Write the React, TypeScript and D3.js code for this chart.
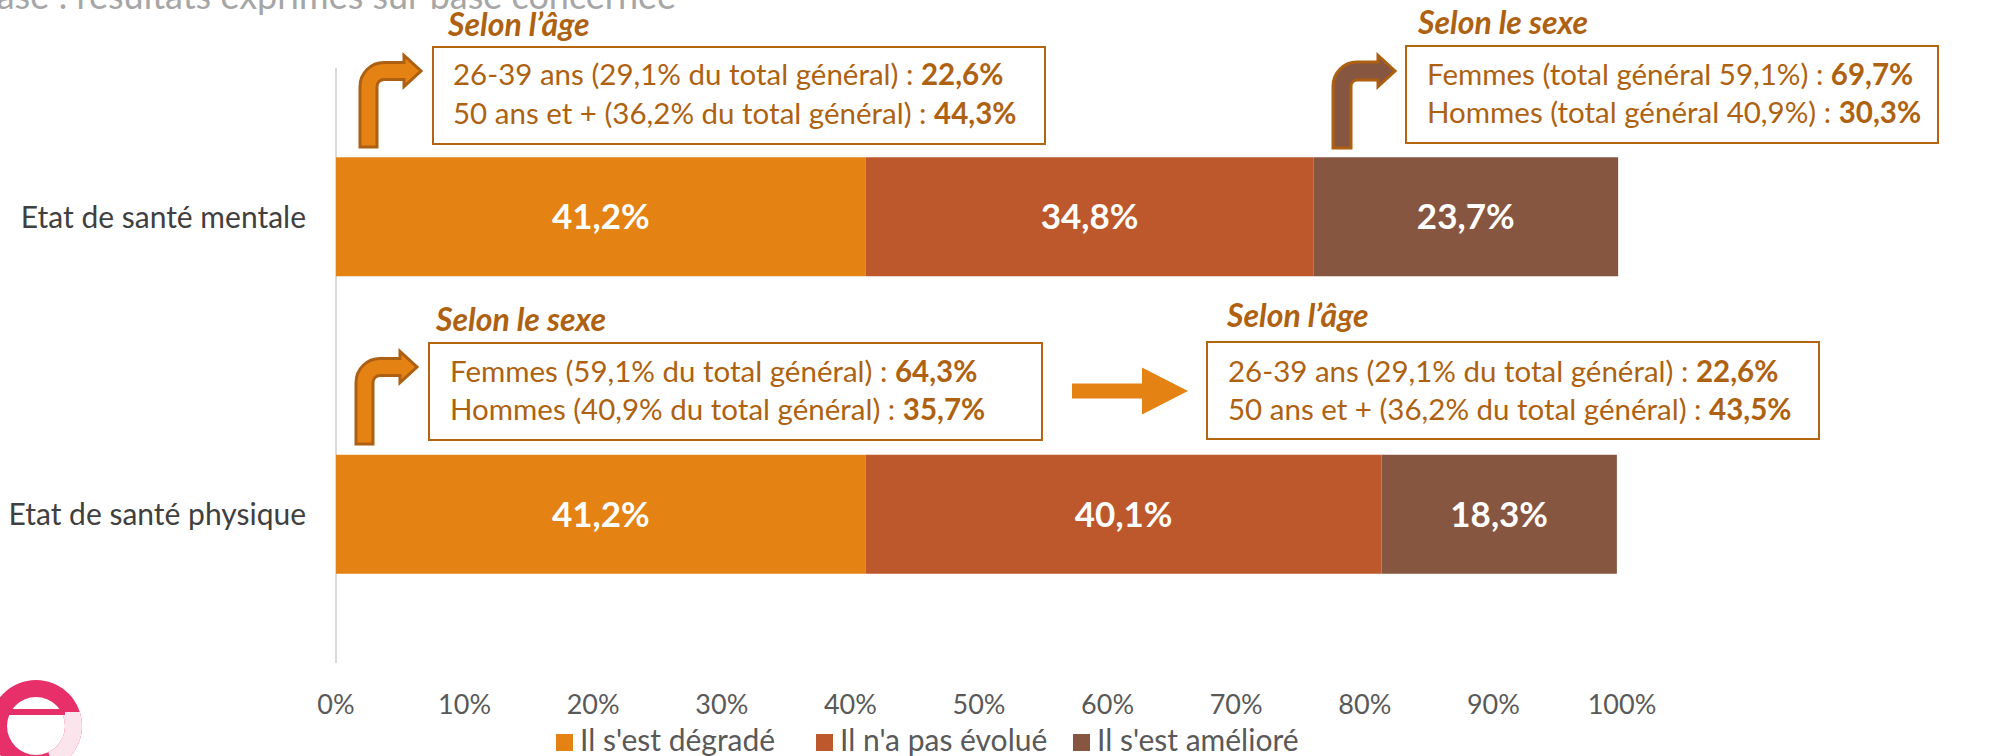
import React from "react";
import * as d3 from "d3";

// ---------- Data ----------
const categories = ["Etat de santé mentale", "Etat de santé physique"];
const seriesNames = ["Il s'est dégradé", "Il n'a pas évolué", "Il s'est amélioré"];
const degrade = [41.2, 41.2];
const inchange = [34.8, 40.1];
const ameliore = [23.7, 18.3];
const xTicks = [0, 10, 20, 30, 40, 50, 60, 70, 80, 90, 100];

const calloutTitles = ["Selon l’âge", "Selon le sexe", "Selon le sexe", "Selon l’âge"];
const calloutLabels = [
  ["26-39 ans (29,1% du total général) : ", "50 ans et + (36,2% du total général) : "],
  ["Femmes (total général 59,1%) : ", "Hommes (total général 40,9%) : "],
  ["Femmes (59,1% du total général) : ", "Hommes (40,9% du total général) : "],
  ["26-39 ans (29,1% du total général) : ", "50 ans et + (36,2% du total général) : "],
];
const calloutValues = [
  ["22,6%", "44,3%"],
  ["69,7%", "30,3%"],
  ["64,3%", "35,7%"],
  ["22,6%", "43,5%"],
];
const headerText = "Base : résultats exprimés sur base concernée";

// ---------- Styles / layout ----------
const W = 1998;
const H = 756;
const FONT = "Lato, 'Open Sans', sans-serif";
const colors = ["#E48214", "#BD582C", "#875640"];
const calloutColor = "#AE6211";
const boxStroke = "#B5650F";
const arrowStroke = "#AD5F12";

const boxes = [
  { x: 433, y: 47, w: 612, h: 97, tx: 448, ty: 36, lx: 453, l1: 85, l2: 124 },
  { x: 1406, y: 46, w: 532, h: 97, tx: 1418, ty: 34, lx: 1427, l1: 85, l2: 123 },
  { x: 429, y: 343, w: 613, h: 97, tx: 436, ty: 331, lx: 450, l1: 382, l2: 420 },
  { x: 1207, y: 342, w: 612, h: 97, tx: 1227, ty: 327, lx: 1228, l1: 382, l2: 420 },
];

const bentArrows = [
  { sl: 360, sr: 377, bottom: 147, cy: 71, base: 404, tip: 421, hh: 15.5, fill: "#E48214" },
  { sl: 1333, sr: 1351, bottom: 148, cy: 71, base: 1378, tip: 1395, hh: 15.5, fill: "#875640" },
  { sl: 356, sr: 373, bottom: 444, cy: 367, base: 400, tip: 417, hh: 15.5, fill: "#E48214" },
];

function bentArrowPath(a: any) {
  const sw = a.sr - a.sl;
  const top = a.cy - sw / 2;
  const bot = a.cy + sw / 2;
  const Ro = 24;
  const Ri = Ro - sw;
  return [
    `M${a.sl},${a.bottom}`,
    `L${a.sl},${top + Ro}`,
    `A${Ro},${Ro} 0 0 1 ${a.sl + Ro},${top}`,
    `L${a.base},${top}`,
    `L${a.base},${a.cy - a.hh}`,
    `L${a.tip},${a.cy}`,
    `L${a.base},${a.cy + a.hh}`,
    `L${a.base},${bot}`,
    `L${a.sr + Ri},${bot}`,
    `A${Ri},${Ri} 0 0 0 ${a.sr},${bot + Ri}`,
    `L${a.sr},${a.bottom}`,
    "Z",
  ].join(" ");
}

function straightArrowPath(x0: number, base: number, tip: number, cy: number, sh: number, hh: number) {
  return `M${x0},${cy - sh} L${base},${cy - sh} L${base},${cy - hh} L${tip},${cy} L${base},${cy + hh} L${base},${cy + sh} L${x0},${cy + sh} Z`;
}

const fmt = (v: number) => d3.format(".1f")(v).replace(".", ",") + "%";

export default function App() {
  const x = d3.scaleLinear().domain([0, 100]).range([336, 1622]);
  const y = d3.scaleBand<string>().domain(categories).range([68, 663]).paddingInner(0.6).paddingOuter(0.3);

  const rows = categories.map((c, i) => [degrade[i], inchange[i], ameliore[i]]);
  const stackData = categories.map((c, i) => ({ cat: c, a: degrade[i], b: inchange[i], c: ameliore[i] }));
  const stack = d3.stack<any>().keys(["a", "b", "c"])(stackData);

  const legendX = [556, 816, 1073];

  return (
    <svg
      width={W}
      height={H}
      style={{ position: "absolute", left: 0, top: 0, background: "#fff" }}
      fontFamily={FONT}
    >
      <rect width={W} height={H} fill="#fff" />
      {/* header (cut off) */}
      <text x={676} y={9} textAnchor="end" fontSize={36} fill="#A6A6A6">
        {headerText}
      </text>

      {/* axis line */}
      <line x1={x(0)} x2={x(0)} y1={68} y2={663} stroke="#D9D9D9" strokeWidth={2} />

      {/* bars */}
      {stack.map((layer, si) =>
        layer.map((d, ci) => {
          const x0 = x(d[0]);
          const x1 = x(d[1]);
          const yy = y(categories[ci])!;
          return (
            <g key={`${si}-${ci}`}>
              <rect x={x0} y={yy} width={x1 - x0} height={y.bandwidth()} fill={colors[si]} />
              <text
                x={(x0 + x1) / 2}
                y={yy + y.bandwidth() / 2}
                dy="0.36em"
                textAnchor="middle"
                fontSize={35}
                fontWeight="bold"
                fill="#fff"
              >
                {fmt(rows[ci][si])}
              </text>
            </g>
          );
        })
      )}

      {/* category labels */}
      {categories.map((c) => (
        <text
          key={c}
          x={306}
          y={y(c)! + y.bandwidth() / 2}
          dy="0.36em"
          textAnchor="end"
          fontSize={30}
          fill="#404040"
        >
          {c}
        </text>
      ))}

      {/* x tick labels */}
      {xTicks.map((t) => (
        <text key={t} x={x(t)} y={714} textAnchor="middle" fontSize={27} fill="#595959">
          {t}%
        </text>
      ))}

      {/* legend */}
      {seriesNames.map((s, i) => (
        <g key={s}>
          <rect x={legendX[i]} y={734} width={17} height={17} fill={colors[i]} />
          <text x={legendX[i] + 24} y={751} fontSize={30} fill="#595959">
            {s}
          </text>
        </g>
      ))}

      {/* callouts */}
      {boxes.map((b, i) => (
        <g key={i}>
          <text x={b.tx} y={b.ty} fontSize={32} fontWeight="bold" fontStyle="italic" fill={calloutColor}>
            {calloutTitles[i]}
          </text>
          <rect x={b.x} y={b.y} width={b.w} height={b.h} fill="#fff" stroke={boxStroke} strokeWidth={2} />
          {[b.l1, b.l2].map((ly, li) => (
            <text key={li} x={b.lx} y={ly} fontSize={29.5} fill={calloutColor}>
              {calloutLabels[i][li]}
              <tspan fontWeight="bold">{calloutValues[i][li]}</tspan>
            </text>
          ))}
        </g>
      ))}

      {/* bent arrows */}
      {bentArrows.map((a, i) => (
        <path key={i} d={bentArrowPath(a)} fill={a.fill} stroke={arrowStroke} strokeWidth={3} strokeLinejoin="miter" />
      ))}
      {/* straight arrow */}
      <path d={straightArrowPath(1072, 1142, 1188, 391, 7.5, 23.5)} fill="#E48214" />

      {/* logo */}
      <g>
        <defs>
          <clipPath id="ringClip">
            <path
              d={`M${36 - 46},726 a46,46 0 1,0 92,0 a46,46 0 1,0 -92,0 Z M${36 - 29},726 a29,29 0 1,1 58,0 a29,29 0 1,1 -58,0 Z`}
              clipRule="evenodd"
              fillRule="evenodd"
            />
          </clipPath>
        </defs>
        <g clipPath="url(#ringClip)">
          <rect x={-20} y={670} width={120} height={100} fill="#E72F69" />
          <path d="M36,712 L90,712 L90,790 L60,790 Z" fill="#FCE4EC" />
        </g>
        <rect x={7} y={709} width={58} height={6} fill="#E72F69" />
      </g>
    </svg>
  );
}
